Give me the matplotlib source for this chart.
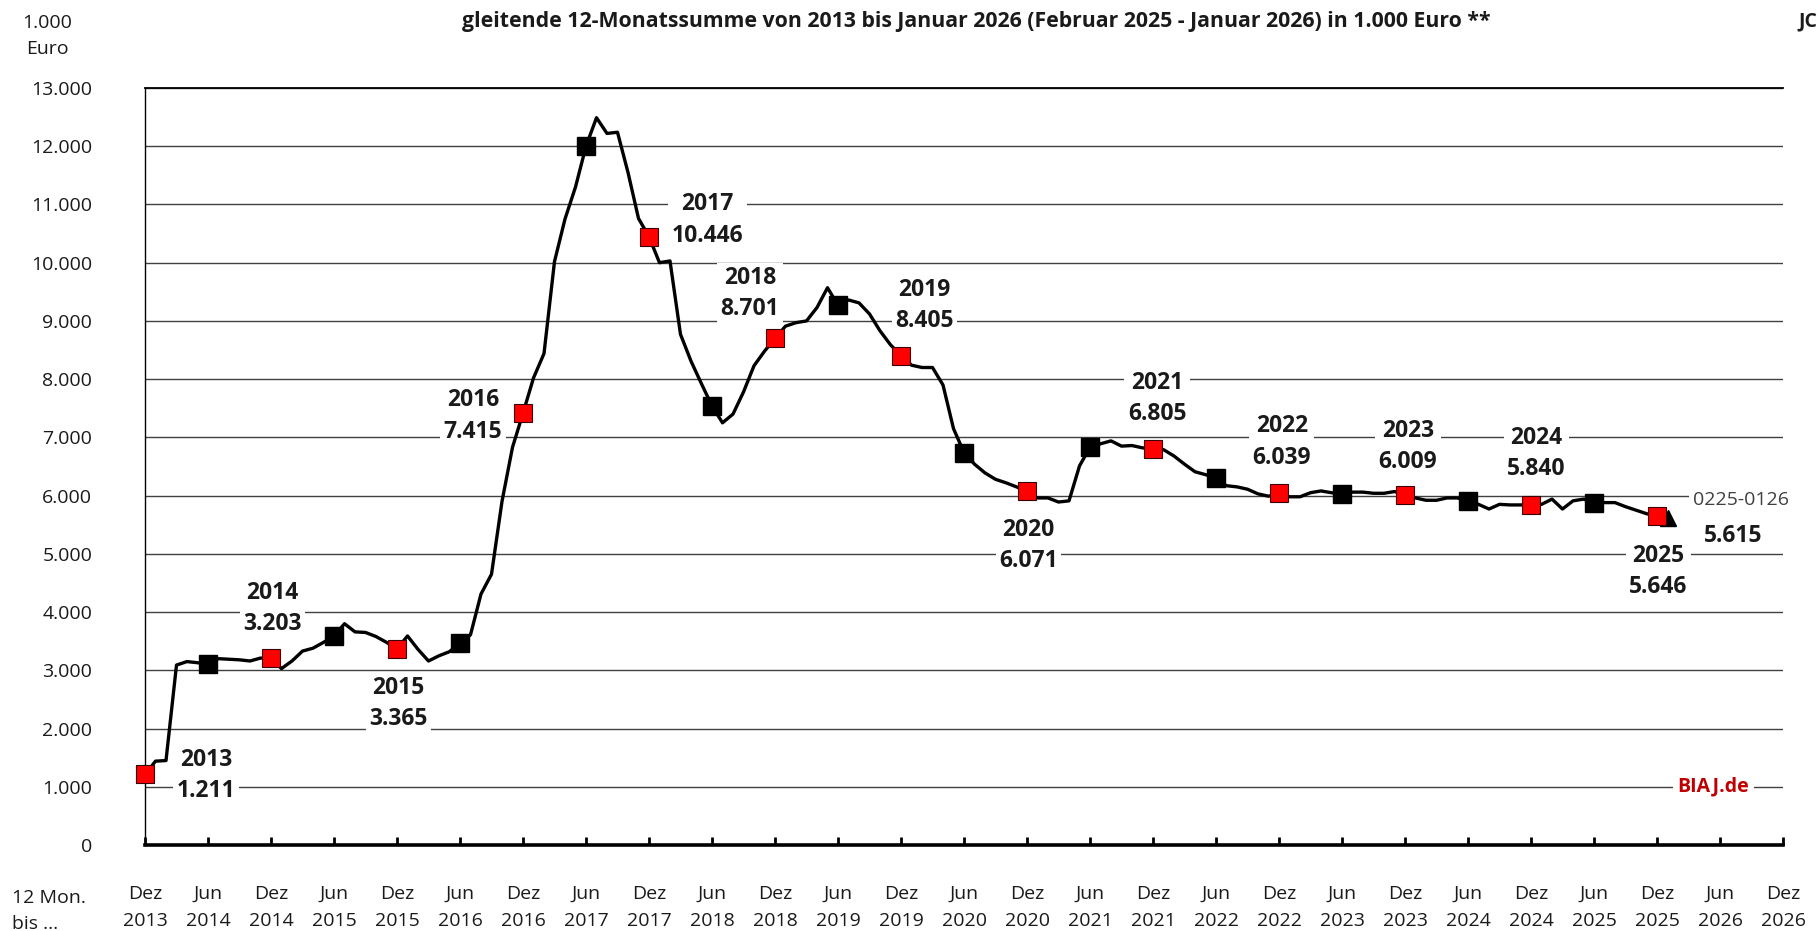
import matplotlib
matplotlib.use("Agg")
import matplotlib.pyplot as plt
from matplotlib.ticker import FixedLocator, FuncFormatter
import numpy as np

plt.rcParams['font.family'] = ['Open Sans', 'DejaVu Sans']

# gleitende 12-Monatssumme in 1.000 Euro, monatlich von Dez 2013 bis Jan 2026
werte = [
    1211, 1440, 1450, 3090, 3150, 3130, 3110, 3200, 3190, 3180, 3160, 3210,
    3203, 3030, 3160, 3330, 3380, 3480, 3590, 3800, 3660, 3650, 3580, 3480,
    3365, 3590, 3360, 3160, 3250, 3320, 3470, 3610, 4310, 4650, 5900, 6830,
    7415, 8020, 8440, 10020, 10750, 11300, 12000, 12490, 12220, 12240, 11550, 10760,
    10446, 10000, 10030, 8770, 8310, 7920, 7540, 7250, 7400, 7780, 8230, 8480,
    8701, 8910, 8970, 9000, 9230, 9570, 9270, 9360, 9310, 9120, 8830, 8590,
    8405, 8240, 8200, 8200, 7900, 7150, 6740, 6540, 6390, 6280, 6220, 6150,
    6071, 5960, 5960, 5890, 5910, 6510, 6830, 6890, 6940, 6850, 6860, 6820,
    6805, 6790, 6680, 6540, 6410, 6360, 6300, 6170, 6150, 6110, 6030, 5990,
    6039, 5980, 5980, 6050, 6080, 6050, 6020, 6060, 6060, 6040, 6040, 6070,
    6009, 5960, 5920, 5920, 5960, 5960, 5900, 5850, 5770, 5850, 5840, 5840,
    5840, 5850, 5940, 5770, 5910, 5940, 5880, 5880, 5880, 5810, 5750, 5690,
    5646, 5615,
]
jahre = ['2013', '2014', '2015', '2016', '2017', '2018', '2019',
         '2020', '2021', '2022', '2023', '2024', '2025']
letzter_zeitraum = '0225-0126'

# label offsets (points) relative to the December marker
label_offsets = [(44, -1), (1, 36), (1, -39), (-36, -2), (42, 12), (-18, 32), (17, 36),
                 (1, -39), (3, 36), (2, 37), (2, 35), (4, 37), (1, -40)]

werte = np.array(werte, dtype=float)
monate = np.arange(len(werte))
dez_idx = monate[monate % 12 == 0]
jun_idx = monate[monate % 12 == 6]


def de_num(v):
    return f"{v:,.0f}".replace(",", ".")


fig = plt.figure(figsize=(18.18, 9.31), dpi=100)
ax = fig.add_axes([145 / 1818, 86 / 931, 1638 / 1818, 757 / 931])

ax.plot(monate, werte, color='black', lw=2.4, zorder=4, solid_joinstyle='round')
ax.plot(jun_idx, werte[jun_idx], ls='none', marker='s', ms=12.5, mfc='black',
        mec='black', zorder=5, clip_on=False)
ax.plot(dez_idx, werte[dez_idx], ls='none', marker='s', ms=12.5, mfc='#ff0000',
        mec='#3a0000', mew=0.8, zorder=5, clip_on=False)
ax.plot(monate[-1:], werte[-1:], ls='none', marker='^', ms=11, mfc='black',
        mec='black', zorder=4.5)

box = dict(boxstyle='square,pad=0.15', fc='white', ec='none')
for k, i in enumerate(dez_idx):
    dx, dy = label_offsets[k]
    ax.annotate(f"{jahre[k]}\n{de_num(werte[i])}", xy=(i, werte[i]), xytext=(dx, dy),
                textcoords='offset points', ha='center', va='center',
                fontsize=16.5, fontweight='bold', linespacing=1.4, bbox=box,
                zorder=3, color='#1a1a1a')

ax.annotate(letzter_zeitraum, xy=(monate[-1], werte[-1]), xytext=(53, 13),
            textcoords='offset points', ha='center', va='center', fontsize=14,
            color='#404040', bbox=dict(boxstyle='square,pad=0.2', fc='white', ec='none'),
            zorder=3)
ax.annotate(de_num(werte[-1]), xy=(monate[-1], werte[-1]), xytext=(47, -13),
            textcoords='offset points', ha='center', va='center', fontsize=16.5,
            fontweight='bold', color='#1a1a1a', zorder=3)

ax.text(0.9576, 1000 / 13000, 'BIAJ.de', transform=ax.transAxes, ha='center',
        va='center', fontsize=14, fontweight='bold', color='#c00000',
        bbox=dict(boxstyle='square,pad=0.25', fc='white', ec='none'), zorder=3)

ax.set_xlim(0, 156)
ax.set_ylim(0, 13000)

ax.yaxis.set_major_locator(FixedLocator(np.arange(0, 13001, 1000)))
ax.yaxis.set_major_formatter(FuncFormatter(lambda v, p: de_num(v)))
ax.tick_params(axis='y', length=0, pad=38, labelsize=14, labelcolor='#1a1a1a')
ax.yaxis.grid(True, color='#404040', lw=1.0)
ax.set_axisbelow(True)

xt = np.arange(0, 157, 6)
xl = [("Dez" if k % 2 == 0 else "Jun") + "\n" + str(2013 + (k + 1) // 2)
      for k in range(len(xt))]
ax.set_xticks(xt)
ax.set_xticklabels(xl, linespacing=1.62)
ax.tick_params(axis='x', direction='in', length=6, width=2, pad=29, labelsize=14,
               labelcolor='#1a1a1a')

ax.spines['right'].set_visible(False)
ax.spines['top'].set_linewidth(1.3)
ax.spines['left'].set_linewidth(1.0)
ax.spines['bottom'].set_linewidth(2.6)

fig.text(976 / 1818, 1 - 21 / 931,
         'gleitende 12-Monatssumme von 2013 bis Januar 2026 (Februar 2025 - Januar 2026) in 1.000 Euro **',
         ha='center', va='center', fontsize=15.3, fontweight='bold', color='#1a1a1a')
fig.text(47 / 1818, 1 - 36 / 931, '1.000\nEuro', ha='center', va='center',
         fontsize=14, linespacing=1.5, color='#1a1a1a')
fig.text(12 / 1818, 1 - 911 / 931, '12 Mon.\nbis ...', ha='left', va='center',
         fontsize=14, linespacing=1.62, color='#1a1a1a')
fig.text(0.9995, 1 - 21 / 931, 'JC', ha='right', va='center', fontsize=14,
         fontweight='bold', color='#1a1a1a')

fig.savefig('out.png', dpi=100)
